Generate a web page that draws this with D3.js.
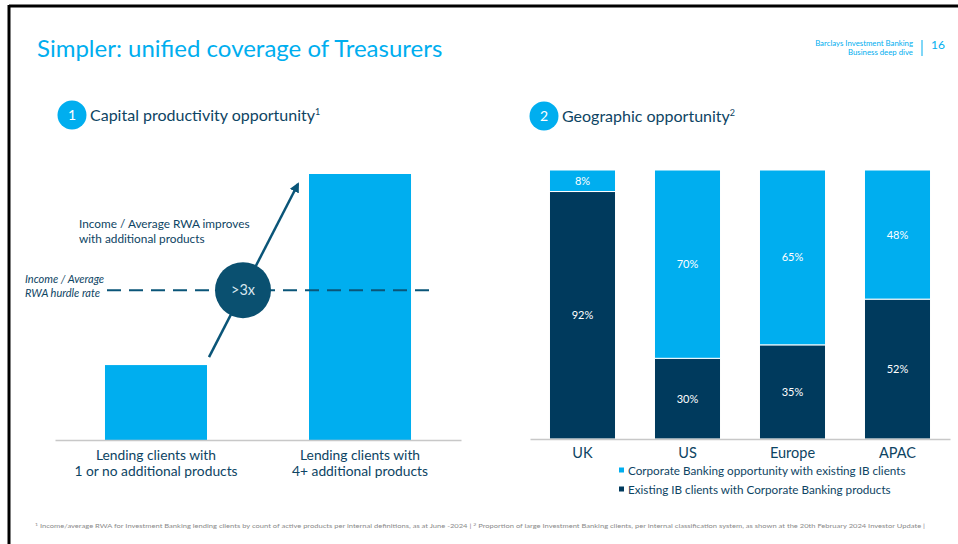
<!DOCTYPE html>
<html>
<head>
<meta charset="utf-8">
<script src="https://cdn.jsdelivr.net/npm/d3@7"></script>
<style>
  html, body { margin: 0; padding: 0; background: #fff; }
  svg { display: block; font-family: Lato, "Open Sans", sans-serif; }
</style>
</head>
<body>
<svg id="chart" width="958" height="544"></svg>
<script>
// ---- data ----
const productCategories = ["Lending clients with|1 or no additional products", "Lending clients with|4+ additional products"];
const productValues = [1, 3.55];          // relative Income / Average RWA
const hurdleRate = 2.0;                   // relative hurdle level
const multipleLabel = ">3x";

const regions = ["UK", "US", "Europe", "APAC"];
const existingShare = [92, 30, 35, 52];      // Existing IB clients with Corporate Banking products
const opportunityShare = [8, 70, 65, 48];    // Corporate Banking opportunity with existing IB clients
const seriesNames = ["Corporate Banking opportunity with existing IB clients", "Existing IB clients with Corporate Banking products"];

const CYAN = "#00aeef";
const NAVY = "#003a5d";
const TEAL = "#0a5578";
const TEXT = "#0d4463";

const svg = d3.select("#chart");

// page frame
svg.append("line").attr("x1", 9).attr("x2", 958).attr("y1", 6).attr("y2", 6).attr("stroke", "#000").attr("stroke-width", 3);
svg.append("line").attr("x1", 9).attr("x2", 9).attr("y1", 5).attr("y2", 544).attr("stroke", "#000").attr("stroke-width", 3);

// title
svg.append("text").attr("x", 37).attr("y", 57).attr("fill", CYAN).attr("font-size", 24)
  .text("Simpler: unified coverage of Treasurers");

// header top right
svg.append("text").attr("x", 913).attr("y", 45.5).attr("text-anchor", "end").attr("fill", CYAN).attr("font-size", 7.8)
  .text("Barclays Investment Banking");
svg.append("text").attr("x", 913).attr("y", 55).attr("text-anchor", "end").attr("fill", CYAN).attr("font-size", 7.8)
  .text("Business deep dive");
svg.append("line").attr("x1", 922).attr("x2", 922).attr("y1", 40).attr("y2", 56).attr("stroke", CYAN).attr("stroke-width", 1);
svg.append("text").attr("x", 931).attr("y", 48.5).attr("fill", CYAN).attr("font-size", 12).text("16");

// section headers
function sectionHeader(cx, cy, num, label, sup) {
  svg.append("circle").attr("cx", cx).attr("cy", cy).attr("r", 14.5).attr("fill", CYAN);
  svg.append("text").attr("x", cx).attr("y", cy + 5).attr("text-anchor", "middle").attr("fill", "#fff")
    .attr("font-size", 14).text(num);
  const t = svg.append("text").attr("x", cx + 18).attr("y", cy + 5.5).attr("fill", TEXT).attr("font-size", 16);
  t.append("tspan").text(label);
  t.append("tspan").attr("dy", -6).attr("font-size", 9).text(sup);
}
sectionHeader(72, 115, "1", "Capital productivity opportunity", "1");
sectionHeader(544, 116, "2", "Geographic opportunity", "2");

// ---- left chart: capital productivity ----
const lx = d3.scaleBand().domain(productCategories).range([55, 461]).paddingInner(0.5).paddingOuter(0.245);
const ly = d3.scaleLinear().domain([0, d3.max(productValues)]).range([440, 174]);

const left = svg.append("g");
left.selectAll("rect.bar").data(productValues).join("rect")
  .attr("class", "bar")
  .attr("x", (d, i) => lx(productCategories[i]))
  .attr("width", lx.bandwidth())
  .attr("y", d => ly(d))
  .attr("height", d => ly(0) - ly(d))
  .attr("fill", CYAN);

// baseline axis with wrapped category labels
const lAxis = left.append("g").attr("transform", `translate(0,${ly(0)})`)
  .call(d3.axisBottom(lx).tickSize(0).tickPadding(0).tickFormat(""));
lAxis.select(".domain").attr("stroke", "#c8c8c8").attr("stroke-width", 1.5);
lAxis.selectAll(".tick").each(function(d) {
  const lines = d.split("|");
  const t = d3.select(this).append("text").attr("fill", TEXT).attr("font-size", 13.8)
    .attr("text-anchor", "middle").attr("font-family", "Lato, sans-serif");
  lines.forEach((ln, i) => t.append("tspan").attr("x", 0).attr("y", 20 + i * 15.5).text(ln));
});

// hurdle rate dashed line
left.append("line").attr("x1", 107).attr("x2", 430).attr("y1", ly(hurdleRate)).attr("y2", ly(hurdleRate))
  .attr("stroke", TEAL).attr("stroke-width", 2).attr("stroke-dasharray", "14,8");
const hl = left.append("text").attr("fill", TEXT).attr("font-size", 11).attr("font-style", "italic");
hl.append("tspan").attr("x", 25).attr("y", ly(hurdleRate) - 7).text("Income / Average");
hl.append("tspan").attr("x", 25).attr("y", ly(hurdleRate) + 7).text("RWA hurdle rate");

// arrow from small bar up past the large bar top
const defs = svg.append("defs");
defs.append("marker").attr("id", "arrowhead").attr("viewBox", "0 0 10 10").attr("refX", 8).attr("refY", 5)
  .attr("markerWidth", 4).attr("markerHeight", 4).attr("orient", "auto")
  .append("path").attr("d", "M0,0 L10,5 L0,10 Z").attr("fill", TEAL);
left.append("line").attr("x1", 209).attr("y1", ly(productValues[0]) - 8).attr("x2", 298).attr("y2", 184)
  .attr("stroke", TEAL).attr("stroke-width", 2.5).attr("marker-end", "url(#arrowhead)");

// multiple badge
left.append("circle").attr("cx", 243).attr("cy", ly(hurdleRate)).attr("r", 28).attr("fill", "#0a5070");
left.append("text").attr("x", 243).attr("y", ly(hurdleRate) + 5).attr("text-anchor", "middle")
  .attr("fill", "#d8e6ee").attr("font-size", 14.5).text(multipleLabel);

// annotation
const ann = left.append("text").attr("fill", TEXT).attr("font-size", 11.8);
ann.append("tspan").attr("x", 79).attr("y", 228).text("Income / Average RWA improves");
ann.append("tspan").attr("x", 79).attr("y", 243).text("with additional products");

// ---- right chart: geographic opportunity ----
const rx = d3.scaleBand().domain(regions).range([530, 950]).paddingInner(0.371).paddingOuter(0.1855);
const ry = d3.scaleLinear().domain([0, 100]).range([439, 170]);

const rows = regions.map((r, i) => ({ region: r, existing: existingShare[i], opportunity: opportunityShare[i] }));
const stack = d3.stack().keys(["existing", "opportunity"])(rows);
const colors = { existing: NAVY, opportunity: CYAN };

const right = svg.append("g");
stack.forEach(layer => {
  const g = right.append("g");
  g.selectAll("rect").data(layer).join("rect")
    .attr("x", d => rx(d.data.region))
    .attr("width", rx.bandwidth())
    .attr("y", d => ry(d[1]))
    .attr("height", d => ry(d[0]) - ry(d[1]))
    .attr("fill", colors[layer.key])
    .attr("stroke", "#fff").attr("stroke-width", 1);
  g.selectAll("text").data(layer).join("text")
    .attr("x", d => rx(d.data.region) + rx.bandwidth() / 2)
    .attr("y", d => (ry(d[0]) + ry(d[1])) / 2 + 4)
    .attr("text-anchor", "middle").attr("fill", "#fff").attr("font-size", 11)
    .text(d => (d[1] - d[0]) + "%");
});

const rAxis = right.append("g").attr("transform", `translate(0,${ry(0)})`)
  .call(d3.axisBottom(rx).tickSize(0).tickPadding(9));
rAxis.select(".domain").attr("stroke", "#c8c8c8").attr("stroke-width", 1.5);
rAxis.selectAll(".tick text").attr("fill", TEXT).attr("font-size", 14.5).attr("font-family", "Lato, sans-serif");

// legend
const legendColors = [CYAN, NAVY];
const legend = right.append("g");
seriesNames.forEach((name, i) => {
  const y = 470 + i * 19;
  legend.append("rect").attr("x", 619).attr("y", y - 2.5).attr("width", 5).attr("height", 5).attr("fill", legendColors[i]);
  legend.append("text").attr("x", 628).attr("y", y + 4.5).attr("fill", TEXT).attr("font-size", 11.7).text(name);
});

// footnote
svg.append("text").attr("x", 35).attr("y", 528).attr("fill", "#8a8a8a").attr("font-size", 6.5)
  .attr("textLength", 890).attr("lengthAdjust", "spacingAndGlyphs")
  .html("<tspan font-size='4.5' dy='-2'>1</tspan><tspan dy='2'> Income/average RWA for Investment Banking lending clients by count of active products per internal definitions, as at June -2024 | </tspan><tspan font-size='4.5' dy='-2'>2</tspan><tspan dy='2'> Proportion of large Investment Banking clients, per internal classification system, as shown at the 20th February 2024 Investor Update |</tspan>");
</script>
</body>
</html>
